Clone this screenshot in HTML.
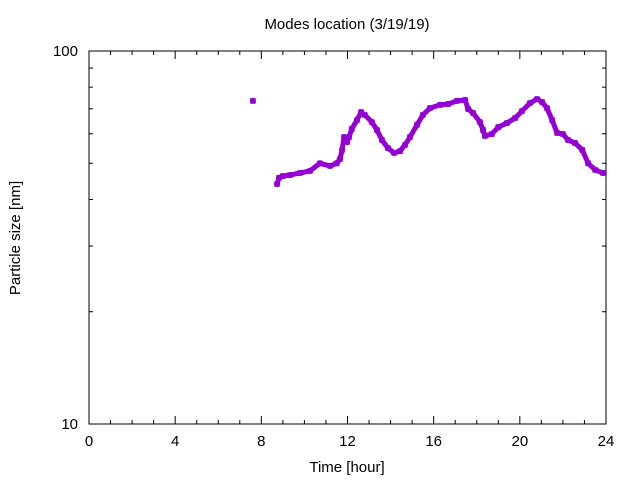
<!DOCTYPE html>
<html><head><meta charset="utf-8"><style>
html,body{margin:0;padding:0;background:#fff}
svg{display:block;font-family:"Liberation Sans",sans-serif}
</style></head><body>
<svg id="chart" width="640" height="480">
<rect width="640" height="480" fill="#fff"/>
<text x="347" y="29" font-size="15" text-anchor="middle">Modes location (3/19/19)</text>
<text x="347" y="472" font-size="15" text-anchor="middle">Time [hour]</text>
<text transform="translate(20,238) rotate(-90)" font-size="15" text-anchor="middle">Particle size [nm]</text>
<g id="axes"></g>
<g id="series"></g>
</svg>
<script>
const xTicks = [0, 4, 8, 12, 16, 20, 24];
const yTicks = [10, 100];
const isoHours = [7.61];
const isoSizes = [73.5];
const hours = [8.73,8.82,9.0,9.33,9.8,10.26,10.72,11.19,11.5,11.65,11.75,11.84,11.98,12.07,12.2,12.44,12.63,12.8,13.13,13.37,13.6,13.88,14.16,14.44,14.67,14.9,15.23,15.5,15.83,16.3,16.67,17.08,17.46,17.6,17.83,18.15,18.29,18.38,18.7,19.0,19.4,19.78,20.1,20.47,20.8,21.03,21.26,21.5,21.73,22.0,22.24,22.56,22.9,23.17,23.5,23.86];
const sizes = [44.0,45.7,46.2,46.5,47.1,47.7,50.0,49.2,50.0,51.3,54.3,58.8,57.0,58.8,61.8,65.3,68.6,67.4,64.5,61.4,57.7,54.9,53.3,53.9,56.0,58.8,63.4,67.4,70.3,71.7,72.1,73.5,73.9,69.9,68.2,64.5,61.4,59.2,59.9,62.5,64.1,66.1,69.0,72.5,74.3,73.0,70.3,65.3,60.3,59.9,57.7,56.7,54.3,50.0,48.0,47.1];

const X0=89,X1=606,Y0=424,Y1=51;
const xs=h=>X0+(h/24)*(X1-X0);
const ys=v=>Y0-(Math.log10(v)-1)*(Y0-Y1);
const NS='http://www.w3.org/2000/svg';
function mk(tag,attrs,parent){const e=document.createElementNS(NS,tag);for(const k in attrs)e.setAttribute(k,attrs[k]);parent.appendChild(e);return e;}
const ax=document.getElementById('axes');
const frame=mk('rect',{x:X0,y:Y1,width:X1-X0,height:Y0-Y1,fill:'none',stroke:'#000','stroke-width':1},ax);


for(let h=0;h<=24;h++){
  const x=xs(h),len=(h%4===0)?8:4;
  mk('line',{x1:x,x2:x,y1:Y0,y2:Y0-len,stroke:'#000'},ax);
  mk('line',{x1:x,x2:x,y1:Y1,y2:Y1+len,stroke:'#000'},ax);
}
xTicks.forEach(t=>{
  const tx=mk('text',{x:xs(t),y:Y0+22,'font-size':15,'text-anchor':'middle'},ax);
  tx.textContent=t;
  
  
});
for(let v=10;v<=100;v+=10){
  const y=ys(v),len=(v===10||v===100)?8:4;
  mk('line',{x1:X0,x2:X0+len,y1:y,y2:y,stroke:'#000'},ax);
  mk('line',{x1:X1,x2:X1-len,y1:y,y2:y,stroke:'#000'},ax);
}
yTicks.forEach(t=>{
  const tx=mk('text',{x:X0-11,y:ys(t)+5,'font-size':15,'text-anchor':'end'},ax);
  tx.textContent=t;
  
  
});
const sg=document.getElementById('series');
const col='#9400d3';
const pl=mk('polyline',{points:hours.map((h,i)=>xs(h)+','+ys(sizes[i])).join(' '),fill:'none',stroke:col,'stroke-width':5,'stroke-linejoin':'round','stroke-linecap':'round'},sg);


function star(x,y){
  const g=mk('g',{stroke:col,'stroke-width':2},sg);
  
  
  mk('line',{x1:x-3,x2:x+3,y1:y,y2:y},g);
  mk('line',{x1:x,x2:x,y1:y-3,y2:y+3},g);
  mk('line',{x1:x-2.5,x2:x+2.5,y1:y-2.5,y2:y+2.5},g);
  mk('line',{x1:x-2.5,x2:x+2.5,y1:y+2.5,y2:y-2.5},g);
}
hours.forEach((h,i)=>star(xs(h),ys(sizes[i])));
isoHours.forEach((h,i)=>star(xs(h),ys(isoSizes[i])));
</script>
</body></html>
